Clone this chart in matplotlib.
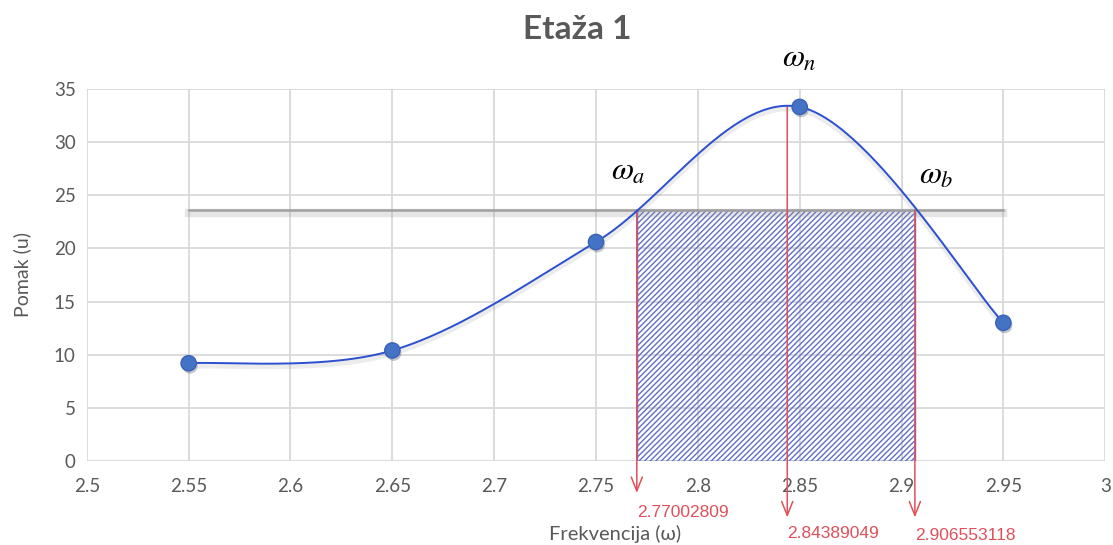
import numpy as np
import matplotlib.pyplot as plt
from matplotlib.patches import Rectangle
import matplotlib.patheffects as pe

# data
freq = [2.55, 2.65, 2.75, 2.85, 2.95]
disp = [9.2, 10.4, 20.6, 33.3, 13.0]
level = 23.6                       # half-power line
w_a, w_n, w_b = 2.77002809, 2.84389049, 2.906553118
w_labels = ["2.77002809", "2.84389049", "2.906553118"]


def excel_smooth(x, y, n=60):
    """Bezier smoothing like Excel's 'smoothed line'."""
    x = np.asarray(x, float)
    y = np.asarray(y, float)
    px = np.concatenate([[x[0]], x, [x[-1]]])
    py = np.concatenate([[y[0]], y, [y[-1]]])
    xs, ys = [], []
    t = np.linspace(0, 1, n)
    for i in range(1, len(px) - 2):
        p0 = np.array([px[i], py[i]])
        p3 = np.array([px[i + 1], py[i + 1]])
        c1 = p0 + (np.array([px[i + 1], py[i + 1]]) - np.array([px[i - 1], py[i - 1]])) / 6
        c2 = p3 - (np.array([px[i + 2], py[i + 2]]) - np.array([px[i], py[i]])) / 6
        b = ((1 - t) ** 3)[:, None] * p0 + (3 * (1 - t) ** 2 * t)[:, None] * c1 \
            + (3 * (1 - t) * t ** 2)[:, None] * c2 + (t ** 3)[:, None] * p3
        xs.extend(b[:, 0])
        ys.extend(b[:, 1])
    return np.array(xs), np.array(ys)


plt.rcParams["font.family"] = ["Lato", "DejaVu Sans"]
plt.rcParams["hatch.linewidth"] = 1.0
plt.rcParams["mathtext.fontset"] = "stix"

fig = plt.figure(figsize=(11.13, 5.45), dpi=100)
ax = fig.add_axes([0.078, 0.154, 0.915, 0.683])

ax.set_xlim(2.5, 3.0)
ax.set_ylim(0, 35)
ax.set_xticks(np.arange(2.5, 3.001, 0.05))
ax.set_xticklabels(["2.5", "2.55", "2.6", "2.65", "2.7", "2.75", "2.8",
                    "2.85", "2.9", "2.95", "3"])
ax.set_yticks(range(0, 36, 5))
ax.grid(True, color="#d9d9d9", lw=1.3)
ax.set_axisbelow(True)
for s in ax.spines.values():
    s.set_visible(False)
ax.tick_params(length=0, labelsize=13.5, colors="#595959", pad=8)
ax.tick_params(axis="x", pad=12)

# hatched band between w_a and w_b
ax.add_patch(Rectangle((w_a, 0), w_b - w_a, level, facecolor="none",
                       edgecolor="#6070c4", hatch="//////", lw=1.0, zorder=2))

# half-power line with soft shadow
ax.plot([freq[0], freq[-1]], [level, level], color="#a0a0a0", lw=1.8, zorder=2,
        path_effects=[pe.SimpleLineShadow(offset=(0, -2), shadow_color="0.6", alpha=0.25,
                                          linewidth=6), pe.Normal()])

# red marker lines with arrows below the axis
red = "#e0505a"
tops = [level, 33.4, level]
ends = [-3.0, -5.3, -5.3]
lab_y = [-4.8, -6.8, -7.0]
for w, top, end, lab, ly in zip([w_a, w_n, w_b], tops, ends, w_labels, lab_y):
    ax.annotate("", xy=(w, end), xytext=(w, top), annotation_clip=False,
                arrowprops=dict(arrowstyle="->,head_length=1.0,head_width=0.4",
                                color=red, lw=1.1, shrinkA=0, shrinkB=0), zorder=3)
    ax.text(w, ly, lab, color=red, fontsize=12.5, family="Liberation Sans",
            ha="left", va="center", clip_on=False)

# smoothed curve and markers
sx, sy = excel_smooth(freq, disp)
ax.plot(sx, sy, color="#2b50d0", lw=1.4, zorder=4,
        path_effects=[pe.SimpleLineShadow(offset=(0, -2), shadow_color="0.5", alpha=0.15,
                                          linewidth=4), pe.Normal()])
ax.plot(freq, disp, "o", ms=11, color="#4472c4", mec="#3a62b8", zorder=5,
        path_effects=[pe.SimplePatchShadow(offset=(1, -2), alpha=0.25), pe.Normal()])

# omega annotations
ax.text(2.85, 37.9, r"$\omega_n$", fontsize=23, ha="center", va="center", clip_on=False)
ax.text(2.766, 27.3, r"$\omega_a$", fontsize=23, ha="center", va="center")
ax.text(2.917, 26.9, r"$\omega_b$", fontsize=23, ha="center", va="center")

fig.text(0.519, 0.945, "Etaža 1", fontsize=24, fontweight="bold", color="#595959",
         ha="center", va="center")
ax.set_ylabel("Pomak (u)", fontsize=14, color="#595959", labelpad=16)
fig.text(0.553, 0.02, "Frekvencija (ω)", fontsize=14.5, color="#595959",
         ha="center", va="center")

fig.savefig("out.png", dpi=100)
